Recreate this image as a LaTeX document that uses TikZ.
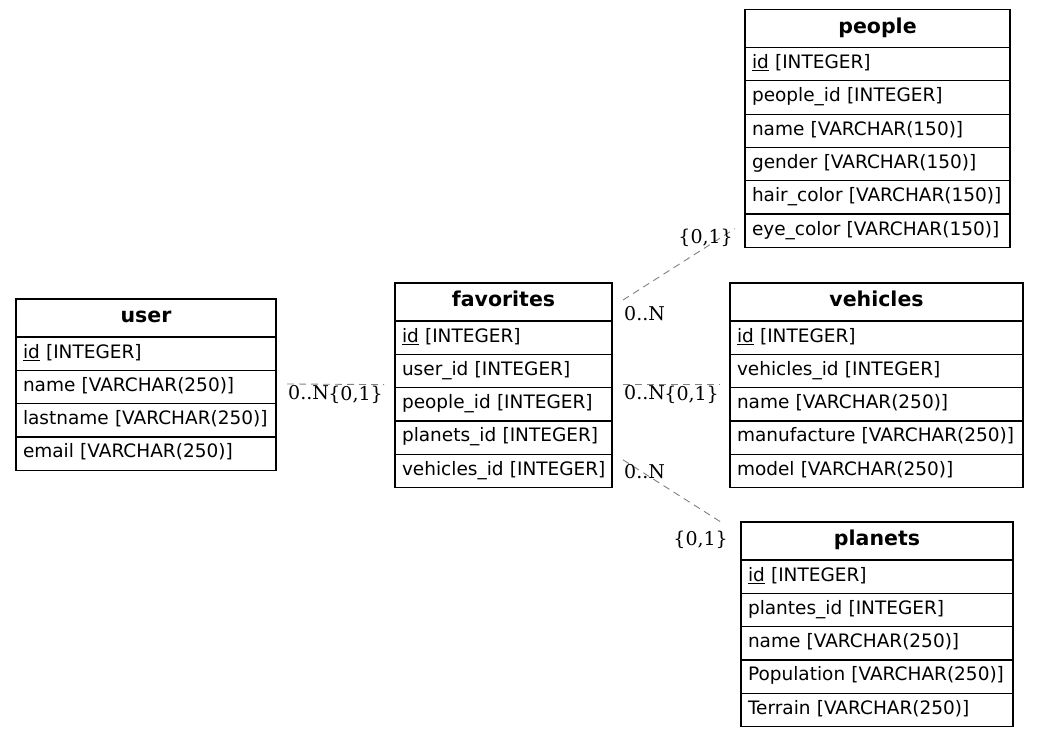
\documentclass[tikz,border=0pt]{standalone}
\usepackage{fontspec}
\setmainfont{DejaVu Sans}
\newfontfamily\cardfont{DejaVu Serif}
\usetikzlibrary{positioning,calc}

\tikzset{
  tblhead/.style={draw, line width=1.2pt, minimum width=#1, minimum height=38,
    inner sep=0pt, outer sep=0pt, font=\fontsize{20.5}{24}\selectfont\bfseries},
  tblrow/.style={draw, line width=1.2pt, text width=#1, align=left, minimum height=33.3,
    inner xsep=7pt, inner ysep=0pt, outer sep=0pt, font=\fontsize{18.5}{22}\selectfont},
  rel/.style={gray, line width=0.9pt, dash pattern=on 7pt off 5pt},
  card/.style={inner sep=1pt, font=\cardfont\fontsize{19}{22}\selectfont}
}

\begin{document}
\begin{tikzpicture}[x=1pt, y=-1pt]
  \useasboundingbox (0,0) rectangle (1040,737);

  % user
  \node[tblhead=260] (user0) at (146,318) {\strut user};
  \foreach \f [count=\i, remember=\i as \j (initially 0)] in
    {\underline{id} [INTEGER], name [VARCHAR(250)], lastname [VARCHAR(250)], email [VARCHAR(250)]}
    \node[tblrow=246pt, below=0pt of user\j] (user\i) {\strut\mbox{\f}};

  % favorites
  \node[tblhead=217] (fav0) at (503.5,302) {\strut favorites};
  \foreach \f [count=\i, remember=\i as \j (initially 0)] in
    {\underline{id} [INTEGER], user\_id [INTEGER], people\_id [INTEGER], planets\_id [INTEGER], vehicles\_id [INTEGER]}
    \node[tblrow=203pt, below=0pt of fav\j] (fav\i) {\strut\mbox{\f}};

  % people
  \node[tblhead=265] (people0) at (877.5,28.5) {\strut people};
  \foreach \f [count=\i, remember=\i as \j (initially 0)] in
    {\underline{id} [INTEGER], people\_id [INTEGER], name [VARCHAR(150)], gender [VARCHAR(150)], hair\_color [VARCHAR(150)], eye\_color [VARCHAR(150)]}
    \node[tblrow=251pt, below=0pt of people\j] (people\i) {\strut\mbox{\f}};

  % vehicles
  \node[tblhead=293] (veh0) at (876.5,302) {\strut vehicles};
  \foreach \f [count=\i, remember=\i as \j (initially 0)] in
    {\underline{id} [INTEGER], vehicles\_id [INTEGER], name [VARCHAR(250)], manufacture [VARCHAR(250)], model [VARCHAR(250)]}
    \node[tblrow=279pt, below=0pt of veh\j] (veh\i) {\strut\mbox{\f}};

  % planets
  \node[tblhead=272] (pla0) at (877,541) {\strut planets};
  \foreach \f [count=\i, remember=\i as \j (initially 0)] in
    {\underline{id} [INTEGER], plantes\_id [INTEGER], name [VARCHAR(250)], Population [VARCHAR(250)], Terrain [VARCHAR(250)]}
    \node[tblrow=258pt, below=0pt of pla\j] (pla\i) {\strut\mbox{\f}};

  % relations
  \coordinate (uf-a) at ($(user2.east)+(11,-3)$);
  \coordinate (uf-b) at ($(fav2.south west)+(-11,-3)$);
  \coordinate (fv-a) at ($(fav2.south east)+(11,-3)$);
  \coordinate (fv-b) at ($(veh2.south west)+(-10,-3)$);
  \coordinate (fp-a) at ($(fav0.east)+(11,-2)$);
  \coordinate (fp-b) at ($(people6.west)+(-10,-2)$);
  \coordinate (fl-a) at ($(fav5.east)+(11,-11)$);
  \coordinate (fl-b) at ($(pla0.west)+(-17,-17)$);

  \draw[rel] (uf-a) -- (uf-b);
  \draw[rel] (fv-a) -- (fv-b);
  \draw[rel] (fp-a) -- (fp-b);
  \draw[rel] (fl-a) -- (fl-b);

  \node[card, anchor=north west] (uf-n) at (uf-a) {0..N};
  \node[card, anchor=north east] (uf-o) at (uf-b) {\{0,1\}};
  \node[card, anchor=north west] (fv-n) at (fv-a) {0..N};
  \node[card, anchor=north east] (fv-o) at (fv-b) {\{0,1\}};
  \node[card, anchor=north west] (fp-n) at ($(fp-a)+(0,5)$) {0..N};
  \node[card, anchor=north east] (fp-o) at ($(fp-b)+(-1,-1)$) {\{0,1\}};
  \node[card, anchor=north west] (fl-n) at ($(fl-a)+(0,3)$) {0..N};
  \node[card, anchor=north east] (fl-o) at ($(fl-b)+(5,6)$) {\{0,1\}};
\end{tikzpicture}
\end{document}
